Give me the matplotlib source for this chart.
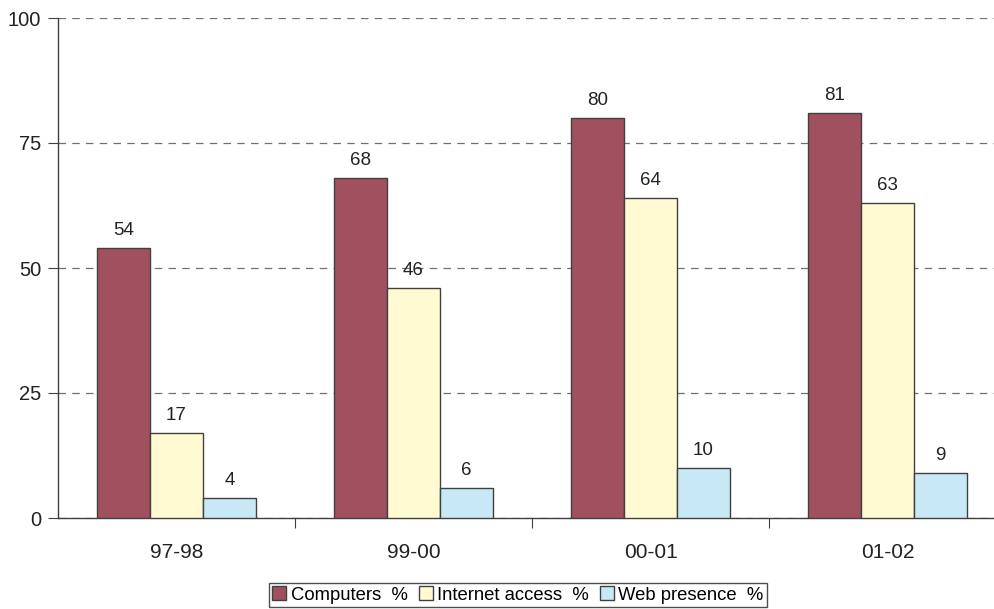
import matplotlib
matplotlib.use("Agg")
import matplotlib.pyplot as plt
import numpy as np

plt.rcParams['font.family'] = ['Liberation Sans', 'DejaVu Sans']

years = ["97-98", "99-00", "00-01", "01-02"]
computers = [54, 68, 80, 81]
internet = [17, 46, 64, 63]
web = [4, 6, 10, 9]
series_names = ["Computers  %", "Internet access  %", "Web presence  %"]
colors = ["#A0505F", "#FFFAD2", "#C8E8F6"]

fig = plt.figure(figsize=(9.94, 6.09), dpi=100)
ax = fig.add_axes([58 / 994, 1 - 518 / 609, 948 / 994, 500 / 609])

centers = np.arange(len(years)) + 0.5
bw = 0.2236
for i, (vals, col, name) in enumerate(zip([computers, internet, web], colors, series_names)):
    xs = centers + (i - 1) * bw
    ax.bar(xs, vals, width=bw, color=col, edgecolor="#404040", linewidth=1.0,
           label=name, zorder=3)
    for x, v in zip(xs, vals):
        ax.text(x, v + 2.6, str(v), ha="center", va="baseline", fontsize=13.5,
                color="#222222", zorder=4)

ax.set_xlim(0, len(years))
ax.set_ylim(0, 100)
ax.set_yticks([0, 25, 50, 75, 100])
ax.set_xticks(np.arange(1, len(years)))
ax.set_xticklabels([])
ax.set_xticks(centers, minor=True)
ax.set_xticklabels(years, minor=True)
ax.tick_params(axis="x", which="minor", length=0, pad=18, labelsize=15, colors="#222222")
ax.tick_params(axis="x", which="major", length=7, color="#404040", direction="out")
ax.tick_params(axis="y", length=7, color="#404040", labelsize=14.5, labelcolor="#222222", pad=5)

ax.yaxis.grid(True, linestyle=(0, (6, 5)), color="#707070", linewidth=0.9, zorder=0)
for s in ["top", "right"]:
    ax.spines[s].set_visible(False)
for s in ["left", "bottom"]:
    ax.spines[s].set_color("#404040")
    ax.spines[s].set_linewidth(1.0)
ax.set_axisbelow(True)

leg = fig.legend(loc="center", bbox_to_anchor=(518 / 994, 1 - 595 / 609), ncol=3,
                 fontsize=13.3, frameon=True, fancybox=False, handlelength=0.75,
                 handleheight=0.75, handletextpad=0.25, columnspacing=0.6,
                 borderpad=0.2, borderaxespad=0)
leg.get_frame().set_edgecolor("#222222")
leg.get_frame().set_linewidth(1.0)

fig.savefig("out.png", dpi=100)
